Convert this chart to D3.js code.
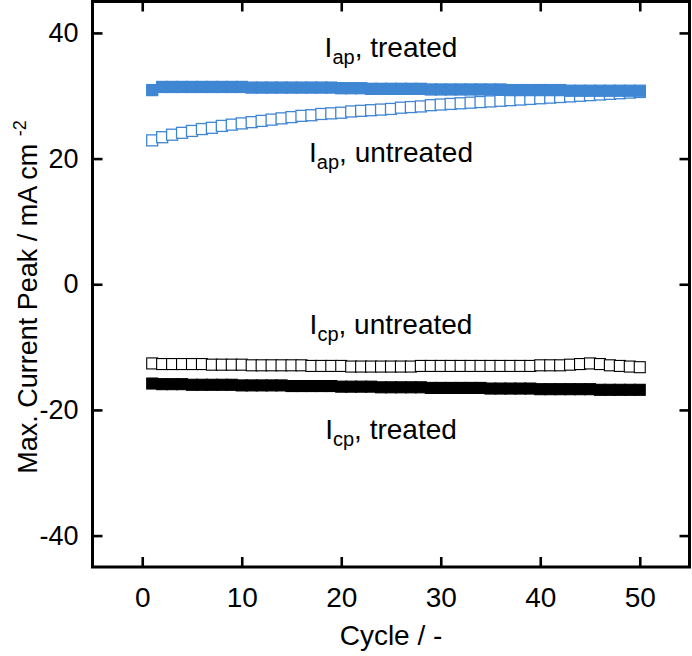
<!DOCTYPE html>
<html>
<head>
<meta charset="utf-8">
<script src="https://cdn.jsdelivr.net/npm/d3@7/dist/d3.min.js"></script>
<style>
  html, body { margin: 0; padding: 0; background: #fff; }
  svg { display: block; font-family: "Liberation Sans", Arial, Helvetica, sans-serif; }
</style>
</head>
<body>
<svg id="chart" width="692" height="656"></svg>
<script>
// ---------- data ----------
const cycles = d3.range(1, 51);

const apTreated = [30.9, 31.4, 31.4, 31.4, 31.4, 31.4, 31.4, 31.4, 31.4, 31.4,
  31.3, 31.3, 31.3, 31.3, 31.3, 31.3, 31.3, 31.3, 31.3, 31.2,
  31.2, 31.2, 31.1, 31.1, 31.1, 31.1, 31.1, 31.1, 31.0, 31.0,
  31.0, 31.0, 31.0, 31.0, 31.0, 31.0, 30.9, 30.9, 30.9, 30.9,
  30.9, 30.9, 30.8, 30.8, 30.8, 30.8, 30.8, 30.8, 30.8, 30.8];

const apUntreated = [22.9, 23.4, 23.8, 24.1, 24.4, 24.7, 24.9, 25.2, 25.4, 25.6,
  25.8, 26.0, 26.2, 26.4, 26.6, 26.8, 26.9, 27.1, 27.2, 27.3,
  27.5, 27.6, 27.7, 27.8, 27.9, 28.1, 28.2, 28.3, 28.5, 28.6,
  28.7, 28.8, 28.9, 29.0, 29.1, 29.2, 29.3, 29.4, 29.5, 29.6,
  29.7, 29.8, 29.9, 30.0, 30.1, 30.2, 30.3, 30.4, 30.5, 30.6];

const cpUntreated = [-12.6, -12.7, -12.7, -12.7, -12.7, -12.7, -12.8, -12.8, -12.8, -12.8,
  -12.9, -12.9, -12.9, -12.9, -12.9, -12.9, -13.0, -13.0, -13.0, -13.0,
  -13.1, -13.1, -13.1, -13.1, -13.1, -13.1, -13.1, -13.0, -13.0, -13.0,
  -13.0, -13.0, -13.0, -13.0, -13.0, -13.0, -13.0, -13.0, -13.0, -12.9,
  -12.9, -12.9, -12.8, -12.7, -12.6, -12.7, -12.9, -13.0, -13.1, -13.2];

const cpTreated = [-15.8, -15.9, -15.9, -15.9, -16.0, -16.0, -16.0, -16.0, -16.0, -16.1,
  -16.1, -16.1, -16.1, -16.1, -16.2, -16.2, -16.2, -16.2, -16.2, -16.3,
  -16.3, -16.3, -16.3, -16.4, -16.4, -16.4, -16.4, -16.4, -16.5, -16.5,
  -16.5, -16.5, -16.5, -16.5, -16.6, -16.6, -16.6, -16.6, -16.6, -16.7,
  -16.7, -16.7, -16.7, -16.7, -16.7, -16.8, -16.8, -16.8, -16.8, -16.8];

const xTicks = [0, 10, 20, 30, 40, 50];
const yTicks = [-40, -20, 0, 20, 40];

const labels = [
  {main: "I", sub: "ap", rest: ", treated", x: 25, y: 36.1},
  {main: "I", sub: "ap", rest: ", untreated", x: 25, y: 19.4},
  {main: "I", sub: "cp", rest: ", untreated", x: 25, y: -7.95},
  {main: "I", sub: "cp", rest: ", treated", x: 25, y: -24.6}
];

// ---------- layout ----------
const blue = "#3f86d3";
const pL = 92.5, pR = 689.5, pT = 1.5, pB = 567;
const fam = "Liberation Sans, Arial, sans-serif";

const svg = d3.select("#chart");
const x = d3.scaleLinear().domain([-5, 55]).range([pL, pR]);
const y = d3.scaleLinear().domain([-45, 45]).range([pB, pT]);

const sq = 11;

function drawSeries(vals, fill, stroke, sw) {
  svg.append("g").selectAll("rect").data(vals).join("rect")
    .attr("x", (d, i) => x(cycles[i]) - sq / 2)
    .attr("y", d => y(d) - sq / 2)
    .attr("width", sq).attr("height", sq)
    .attr("fill", fill)
    .attr("stroke", stroke)
    .attr("stroke-width", sw);
}

drawSeries(apUntreated, "#fff", blue, 1.3);
drawSeries(apTreated, blue, blue, 1.3);
drawSeries(cpUntreated, "#fff", "#000", 1.1);
drawSeries(cpTreated, "#000", "#000", 1.1);

// ---------- axes ----------
const tickLen = 10;
const fmt = d => String(d);
const axStyle = g => {
  g.select(".domain").remove();
  g.selectAll(".tick line").attr("stroke", "#000").attr("stroke-width", 2.6);
};

svg.append("g").attr("transform", `translate(0,${pB})`)
  .call(d3.axisBottom(x).tickValues(xTicks).tickSize(-tickLen).tickPadding(20).tickFormat(fmt))
  .call(axStyle)
  .call(g => g.selectAll(".tick text").attr("font-size", 28).attr("fill", "#000")
    .attr("font-family", fam));

svg.append("g").attr("transform", `translate(0,${pT})`)
  .call(d3.axisTop(x).tickValues(xTicks).tickSize(-tickLen).tickFormat(""))
  .call(axStyle);

svg.append("g").attr("transform", `translate(${pL},0)`)
  .call(d3.axisLeft(y).tickValues(yTicks).tickSize(-tickLen).tickFormat(""))
  .call(axStyle);

svg.append("g").attr("transform", `translate(${pR},0)`)
  .call(d3.axisRight(y).tickValues(yTicks).tickSize(-tickLen).tickFormat(""))
  .call(axStyle);

// frame
svg.append("rect")
  .attr("x", pL).attr("y", pT)
  .attr("width", pR - pL).attr("height", pB - pT)
  .attr("fill", "none").attr("stroke", "#000").attr("stroke-width", 3);

// ---------- labels ----------
const lab = svg.append("g").attr("font-size", 28).attr("fill", "#000").attr("font-family", fam);
labels.forEach(l => {
  const t = lab.append("text")
    .attr("x", x(l.x)).attr("y", y(l.y))
    .attr("text-anchor", "middle");
  t.append("tspan").text(l.main);
  t.append("tspan").attr("font-size", 20).attr("dy", 7).text(l.sub);
  t.append("tspan").attr("dy", -7).text(l.rest);
});

// axis titles
svg.append("text")
  .attr("x", x(25)).attr("y", 645)
  .attr("text-anchor", "middle").attr("font-size", 28).attr("font-family", fam)
  .text("Cycle / -");

const yt = svg.append("text")
  .attr("transform", `translate(37,${297}) rotate(-90)`)
  .attr("text-anchor", "middle").attr("font-size", 27).attr("font-family", fam);
yt.append("tspan").text("Max. Current Peak / mA cm ");
yt.append("tspan").attr("font-size", 18).attr("dy", -11).text("-2");

// y tick labels drawn last, on top
svg.append("g").attr("transform", `translate(${pL},0)`)
  .call(d3.axisLeft(y).tickValues(yTicks).tickSize(0).tickPadding(14).tickFormat(fmt))
  .call(g => g.select(".domain").remove())
  .call(g => g.selectAll(".tick text").attr("font-size", 27).attr("fill", "#000")
    .attr("font-family", fam));
</script>
</body>
</html>
